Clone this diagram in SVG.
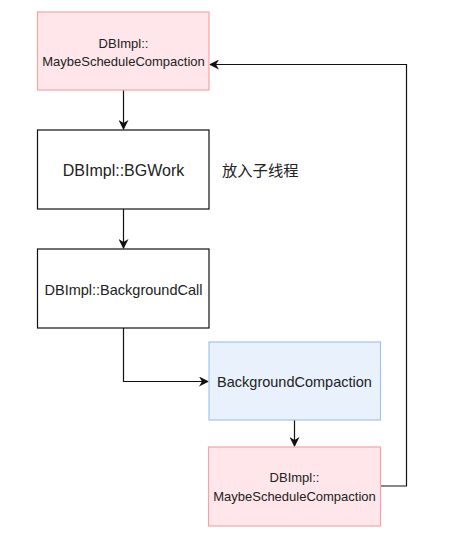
<svg xmlns="http://www.w3.org/2000/svg" width="461" height="533" viewBox="0 0 461 533">
<style>
.t{font-family:"Liberation Sans",Arial,sans-serif;font-size:13px;fill:#222;text-anchor:middle}
.t2{font-family:"Liberation Sans",Arial,sans-serif;font-size:14.5px;fill:#222;text-anchor:middle}
.cjk{font-family:"Noto Sans CJK SC","Liberation Sans",sans-serif;font-size:15.3px;fill:#222}
.red{fill:#ffe6ea;stroke:#f5a3a3;stroke-width:1.2}
.blue{fill:#e9f1fd;stroke:#a3c2f0;stroke-width:1.2}
.wht{fill:#fff;stroke:#111;stroke-width:1.2}
.c{fill:none;stroke:#111;stroke-width:1.2}
</style>
<defs>
<marker id="a" viewBox="0 0 10 10" refX="9" refY="5" markerWidth="10" markerHeight="10" markerUnits="userSpaceOnUse" orient="auto">
<path d="M0,0 L10,5 L0,10 L3,5 Z" fill="#111"/>
</marker>
</defs>
<rect width="461" height="533" fill="#fff"/>
<g id="connectors">
<path class="c" d="M123.5,90 V129" marker-end="url(#a)"/>
<path class="c" d="M123.5,209 V248" marker-end="url(#a)"/>
<path class="c" d="M123.5,328 V381.5 H208" marker-end="url(#a)"/>
<path class="c" d="M294.5,420 V446" marker-end="url(#a)"/>
<path class="c" d="M380.5,486 H406.5 V64.5 H210" marker-end="url(#a)"/>
</g>
<g id="n1">
<rect class="red" x="37.5" y="12" width="171.5" height="78"/>
<text class="t" x="123.5" y="48">DBImpl::</text>
<text class="t" x="123.5" y="66">MaybeScheduleCompaction</text>
</g>
<g id="n2">
<rect class="wht" x="37.5" y="130" width="171.5" height="79"/>
<text class="t2" x="123.5" y="176" style="font-size:16px">DBImpl::BGWork</text>
</g>
<g id="label">
<text class="cjk" x="222" y="176">放入子线程</text>
</g>
<g id="n3">
<rect class="wht" x="37.5" y="249" width="171.5" height="79"/>
<text class="t2" x="123.5" y="295">DBImpl::BackgroundCall</text>
</g>
<g id="n4">
<rect class="blue" x="209" y="342" width="171.5" height="78"/>
<text class="t2" x="294.5" y="387">BackgroundCompaction</text>
</g>
<g id="n5">
<rect class="red" x="208.5" y="447" width="172" height="79"/>
<text class="t" x="294.5" y="482">DBImpl::</text>
<text class="t" x="294.5" y="500.5">MaybeScheduleCompaction</text>
</g>
</svg>
